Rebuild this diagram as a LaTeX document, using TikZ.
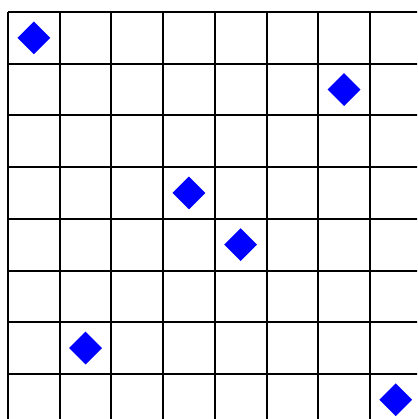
\documentclass[tikz,border=0pt]{standalone}
\usetikzlibrary{shapes.geometric}
\begin{document}
\begin{tikzpicture}[x=1pt,y=-1pt,
  gridline/.style={line width=2pt,black},
  queen/.style={diamond,fill=blue,draw=none,inner sep=0pt,minimum width=33pt,minimum height=33pt}]
\useasboundingbox (0,0) rectangle (417,419);
\clip (0,0) rectangle (417,419);
\def\cs{51.7}
\foreach \i in {0,...,8}{
  \draw[gridline] (8+\i*\cs,12) -- (8+\i*\cs,12+8*\cs);
  \draw[gridline] (8,12+\i*\cs) -- (8+8*\cs,12+\i*\cs);
}
\foreach \c/\r/\n in {0/0/d1,6/1/d2,3/3/d3,4/4/d4,1/6/d5,7/7/d6}{
  \node[queen] (\n) at (8+\c*\cs+0.5*\cs,12+\r*\cs+0.5*\cs) {};
}
\end{tikzpicture}
\end{document}
